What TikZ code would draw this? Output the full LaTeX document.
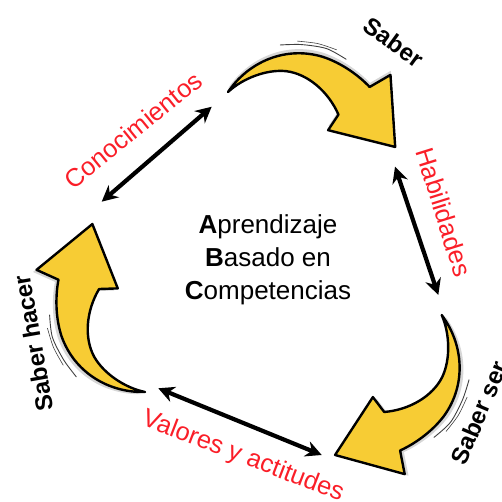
\documentclass[tikz,border=0pt]{standalone}
\usepackage{fontspec}
\setmainfont{Liberation Sans}
\usetikzlibrary{arrows.meta}
\definecolor{arrowyellow}{RGB}{247,204,52}
\definecolor{labelred}{RGB}{250,30,40}
\tikzset{
  bigarrow/.style={fill=arrowyellow, draw=black, line width=2.4pt, line join=round},
  arrowshadow/.style={fill=black!45, opacity=0.35},
  sketch/.style={draw=black!75, line width=0.9pt, line cap=round},
  dblarrow/.style={line width=4.2pt, {Stealth[length=16pt,width=16pt]}-{Stealth[length=16pt,width=16pt]}},
  redlabel/.style={text=labelred, font=\fontsize{25.5}{30}\selectfont},
  blacklabel/.style={text=black, font=\fontsize{24}{28}\selectfont\bfseries},
  crescent/.pic={
    \fill[arrowshadow, shift={(-1,4)}] (0,0) .. controls (10,35) and (40,62) .. (79,63) .. controls (100,63) and (120,56) .. (133,49) -- (149,67) -- (176,0) -- (107,-5) -- (112,13) .. controls (95,32) and (70,42) .. (49,38) .. controls (30,34) and (10,18) .. (0,0) -- cycle;
    \draw[sketch] plot[smooth] coordinates {(35,61) (55,68) (80,72) (102,68)};
    \draw[sketch, line width=0.6pt] plot[smooth] coordinates {(50,70) (70,74) (90,74)};
    \draw[bigarrow] (0,0) .. controls (10,35) and (40,62) .. (79,63) .. controls (100,63) and (120,56) .. (133,49) -- (149,67) -- (176,0) -- (107,-5) -- (112,13) .. controls (95,32) and (70,42) .. (49,38) .. controls (30,34) and (10,18) .. (0,0) -- cycle;
  }
}
\begin{document}
\begin{tikzpicture}[x=1pt,y=1pt]
\useasboundingbox (0,0) rectangle (502,502);
% curved yellow arrows
\pic[rotate=-18.2] at (228,410) {crescent};
\pic[rotate=-127.3] at (441.7,187) {crescent};
\pic[rotate=107.4] at (145,110) {crescent};
% double arrows
\coordinate (c1) at (211.7,395.3);
\coordinate (c2) at (101.7,300.3);
\coordinate (h1) at (395,335.3);
\coordinate (h2) at (438.3,207);
\coordinate (v1) at (158.3,113.7);
\coordinate (v2) at (321.7,47);
\draw[dblarrow] (c1) -- (c2);
\draw[dblarrow] (h1) -- (h2);
\draw[dblarrow] (v1) -- (v2);
% labels
\node[redlabel, rotate=39] (conoc) at (133,372) {Conocimientos};
\node[redlabel, rotate=-72.6] (habil) at (444,290) {Habilidades};
\node[redlabel, rotate=-21] (valores) at (243,45) {Valores y actitudes};
\node[blacklabel, rotate=-36] (saber) at (394,460) {Saber};
\node[blacklabel, rotate=100] (saberhacer) at (33,159) {Saber hacer};
\node[blacklabel, rotate=67] (saberser) at (479,89) {Saber ser};
\node[align=center, font=\fontsize{26}{33}\selectfont] (center) at (268,242)
  {\textbf{A}prendizaje\\\textbf{B}asado en\\\textbf{C}ompetencias};
\end{tikzpicture}
\end{document}
